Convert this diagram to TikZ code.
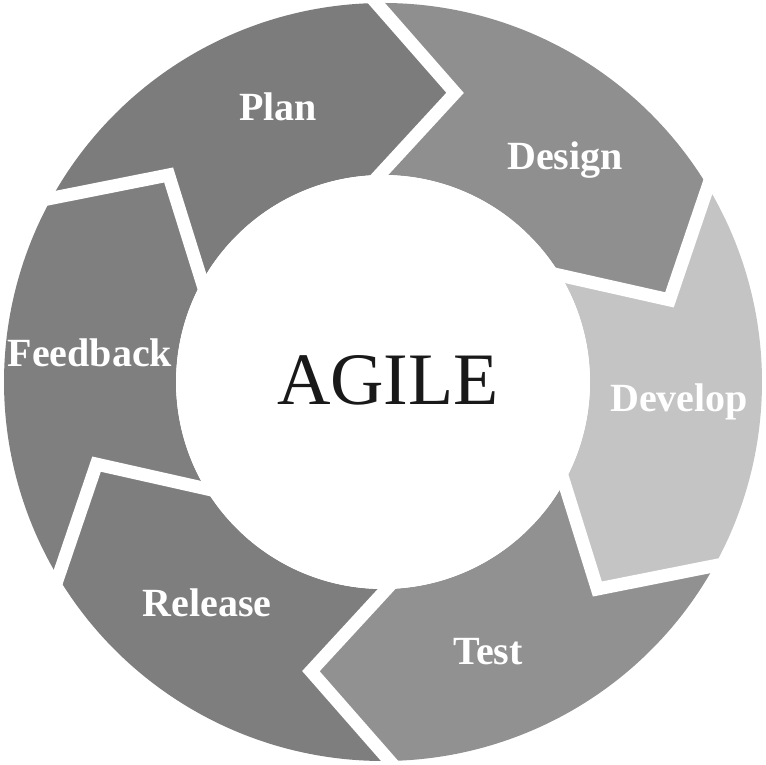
\documentclass[tikz,border=0pt]{standalone}
\usepackage{fontspec}
\setmainfont{Liberation Serif}
\begin{document}
\begin{tikzpicture}[x=1pt,y=1pt,
  lbl/.style={text=white,font=\fontsize{40}{48}\bfseries\selectfont,anchor=base,inner sep=0pt},
  gap/.style={draw=white,line width=13pt,line join=miter,shorten <=-14pt,shorten >=-14pt}]
\useasboundingbox (0,0) rectangle (766,765);
\fill[white] (0,0) rectangle (766,765);
\def\Ro{379}\def\Ri{207}\def\Rm{298}
\begin{scope}[shift={(383,383)}]
  \foreach \s/\col in {151/7c7c7c,91/8f8f8f,31/c4c4c4,-29/919191,-89/7e7e7e,-149/7f7f7f}{
    \pgfmathsetmacro{\e}{\s-60}
    \pgfmathsetmacro{\et}{\s-75}
    \pgfmathsetmacro{\st}{\s-15}
    \definecolor{segcol}{HTML}{\col}
    \fill[segcol] (\s:\Ro) arc[start angle=\s,end angle=\e,radius=\Ro]
      -- (\et:\Rm) -- (\e:\Ri) arc[start angle=\e,end angle=\s,radius=\Ri]
      -- (\st:\Rm) -- cycle;
  }
  \foreach \b in {151,91,31,-29,-89,-149}{
    \pgfmathsetmacro{\bt}{\b-15}
    \draw[gap] (\b:\Ro) -- (\bt:\Rm) -- (\b:\Ri);
  }
  \fill[white] (0,0) circle (\Ri);
\end{scope}
\node[lbl] (plan) at (278,644) {Plan};
\node[lbl] (design) at (565,595) {Design};
\node[lbl] (develop) at (679,353) {Develop};
\node[lbl] (test) at (488,100) {Test};
\node[lbl] (release) at (207,148) {Release};
\node[lbl] (feedback) at (90,398) {Feedback};
\node[anchor=base,inner sep=0pt,text=black!90,font=\fontsize{74}{80}\selectfont] (agile) at (388,360) {AGILE};
\end{tikzpicture}
\end{document}
